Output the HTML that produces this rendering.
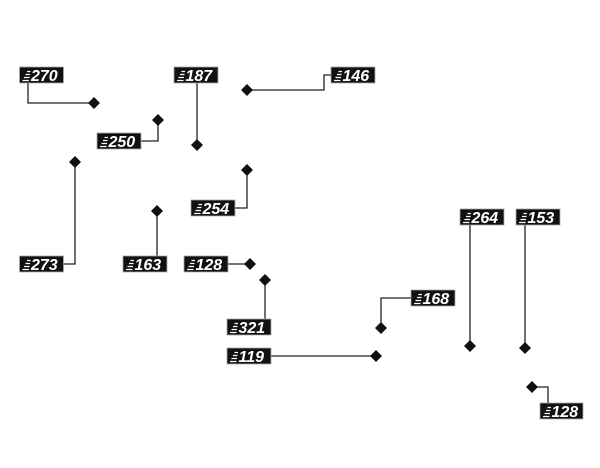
<!DOCTYPE html>
<html><head><meta charset="utf-8"><style>
html,body{margin:0;padding:0;background:#fff;}
svg{display:block;}
.t{font-family:"Liberation Sans",sans-serif;font-weight:bold;font-style:italic;font-size:16px;fill:#fff;}
</style></head><body>
<svg width="600" height="468" viewBox="0 0 600 468" xmlns="http://www.w3.org/2000/svg">
<defs>
<g id="ic"><path d="M7 4.5h3.5M5.5 7.5h4.5M4 10.5h5.5M2.5 13.5h6.5" stroke="#fff" stroke-width="1.2"/></g>
<path id="dm" d="M0 -6L6 0L0 6L-6 0Z" fill="#111"/>
</defs>
<g stroke="#222" stroke-width="1.3" fill="none">
<path d="M28 83V103H94"/>
<path d="M197 83V145"/>
<path d="M331 75H324V90H247"/>
<path d="M141 141H158V120"/>
<path d="M235 208H247V170"/>
<path d="M63 264H75V162"/>
<path d="M157 256V211"/>
<path d="M228 264H250"/>
<path d="M265 319V280"/>
<path d="M411 298H381V328"/>
<path d="M271 356H376"/>
<path d="M470 225V346"/>
<path d="M525 225V348"/>
<path d="M548 403V387H532"/>
</g>
<g>
<use href="#dm" x="94" y="103"/><use href="#dm" x="197" y="145"/><use href="#dm" x="247" y="90"/>
<use href="#dm" x="158" y="120"/><use href="#dm" x="247" y="170"/><use href="#dm" x="75" y="162"/>
<use href="#dm" x="157" y="211"/><use href="#dm" x="250" y="264"/><use href="#dm" x="265" y="280"/>
<use href="#dm" x="381" y="328"/><use href="#dm" x="376" y="356"/><use href="#dm" x="470" y="346"/>
<use href="#dm" x="525" y="348"/><use href="#dm" x="532" y="387"/>
</g>
<g stroke="#aaa" stroke-width="0.8" fill="#111">
<rect x="19.5" y="67" width="44" height="16"/>
<rect x="174" y="67" width="44" height="16"/>
<rect x="331" y="67" width="44" height="16"/>
<rect x="97" y="133" width="44" height="16"/>
<rect x="191" y="200" width="44" height="16"/>
<rect x="19.5" y="256" width="44" height="16"/>
<rect x="123" y="256" width="44" height="16"/>
<rect x="184" y="256" width="44" height="16"/>
<rect x="227" y="319" width="44" height="16"/>
<rect x="411" y="290" width="44" height="16"/>
<rect x="227" y="348" width="44" height="16"/>
<rect x="460" y="209" width="44" height="16"/>
<rect x="516" y="209" width="44" height="16"/>
<rect x="540" y="403" width="43" height="16"/>
</g>
<g>
<use href="#ic" x="20" y="67"/><use href="#ic" x="174.5" y="67"/><use href="#ic" x="331.5" y="67"/>
<use href="#ic" x="97.5" y="133"/><use href="#ic" x="191.5" y="200"/><use href="#ic" x="20" y="256"/>
<use href="#ic" x="123.5" y="256"/><use href="#ic" x="184.5" y="256"/><use href="#ic" x="227.5" y="319"/>
<use href="#ic" x="411.5" y="290"/><use href="#ic" x="227.5" y="348"/><use href="#ic" x="460.5" y="209"/>
<use href="#ic" x="516.5" y="209"/><use href="#ic" x="540.5" y="403"/>
</g>
<g class="t">
<text x="31" y="81">270</text><text x="185.5" y="81">187</text><text x="342.5" y="81">146</text>
<text x="108.5" y="147">250</text><text x="202.5" y="214">254</text><text x="31" y="270">273</text>
<text x="134.5" y="270">163</text><text x="195.5" y="270">128</text><text x="238.5" y="333">321</text>
<text x="422.5" y="304">168</text><text x="238.5" y="362">119</text><text x="471.5" y="223">264</text>
<text x="527.5" y="223">153</text><text x="551.5" y="417">128</text>
</g>
</svg>
</body></html>
